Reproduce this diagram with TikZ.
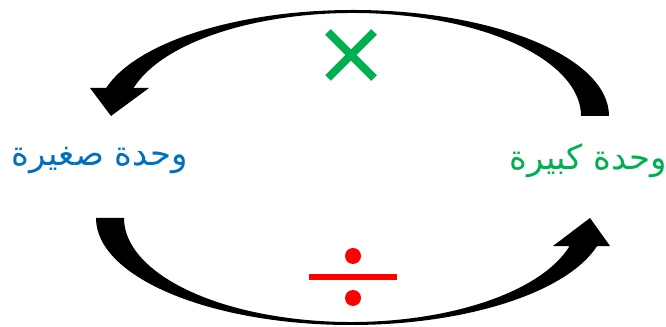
\documentclass[tikz,border=0pt]{standalone}
\usepackage{fontspec}
\newfontfamily\arabicfont[Script=Arabic]{DejaVu Sans}
\TeXXeTstate=1
\usetikzlibrary{calc}
\definecolor{unitblue}{HTML}{0070C0}
\definecolor{unitgreen}{HTML}{00B050}
\definecolor{oprred}{HTML}{FF0000}

\begin{document}
\begin{tikzpicture}[
  x=0.75pt, y=0.75pt,
  unit/.style={font=\arabicfont\fontsize{25.5}{30}\selectfont, inner sep=0pt},
  bandarrow/.style={fill=black},
  opr/.style={line width=6pt},
]
\useasboundingbox (0,0) rectangle (666,327);

\node[unit, text=unitblue] (small) at (100,166) {\beginR وحدة صغيرة\endR};
\node[unit, text=unitgreen] (big) at (588,166) {\beginR وحدة كبيرة\endR};

% centres of the two curved arrows
\coordinate (ct) at (353,211);
\coordinate (cb) at (351,109);

% big -> small (top)
\fill[bandarrow] ($(ct)+(256,0)$) arc[start angle=0, end angle=164.68, x radius=256, y radius=106]
  -- (90,239) -- (111,211) -- (149,239)
  -- ($(ct)+(164.23:228 and 103)$)
  arc[start angle=164.23, end angle=0, x radius=228, y radius=103] -- cycle;

% small -> big (bottom)
\fill[bandarrow] ($(cb)+(-255,0)$) arc[start angle=180, end angle=344.68, x radius=255, y radius=107]
  -- (610,81) -- (590,109) -- (553,81)
  -- ($(cb)+(344.23:227 and 104)$)
  arc[start angle=344.23, end angle=180, x radius=227, y radius=104] -- cycle;

% times
\coordinate (times) at (351,272);
\draw[opr, unitgreen] ($(times)+(-23,23)$) -- ($(times)+(23,-23)$);
\draw[opr, unitgreen] ($(times)+(-23,-23)$) -- ($(times)+(23,23)$);

% divide
\coordinate (div) at (353,50);
\draw[line width=4.5pt, oprred] ($(div)+(-44,0)$) -- ($(div)+(44,0)$);
\fill[oprred] ($(div)+(0,21)$) circle (8);
\fill[oprred] ($(div)+(0,-21)$) circle (8);
\end{tikzpicture}
\end{document}
